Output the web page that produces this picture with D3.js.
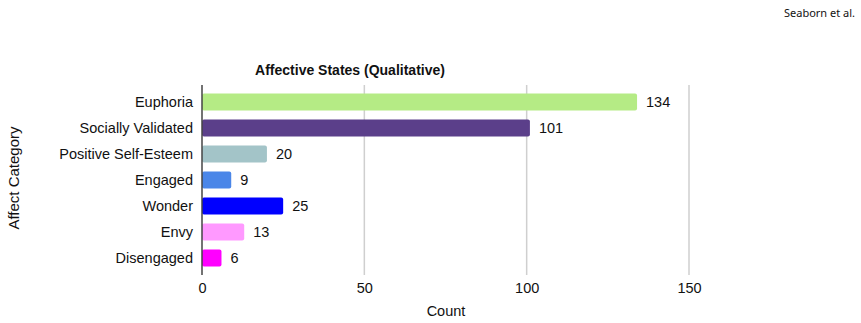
<!DOCTYPE html>
<html>
<head>
<meta charset="utf-8">
<script src="https://cdn.jsdelivr.net/npm/d3@7"></script>
<style>
  body { margin: 0; background: #fff; }
  text { font-family: "Liberation Sans", Arial, sans-serif; fill: #111; }
</style>
</head>
<body>
<svg id="chart"></svg>
<script>
// data
const categories = ["Euphoria", "Socially Validated", "Positive Self-Esteem", "Engaged", "Wonder", "Envy", "Disengaged"];
const counts = [134, 101, 20, 9, 25, 13, 6];
const barColors = ["#b5eb85", "#5b3f8a", "#a3c4c8", "#4a86e8", "#0000ff", "#ff99ff", "#ff00ff"];
const xTicks = [0, 50, 100, 150];

const width = 861, height = 323;
let svg = d3.select("#chart")
    .attr("width", width)
    .attr("height", height);

// scales
let x = d3.scaleLinear()
    .domain([0, 150])
    .range([202, 689]);

let y = d3.scaleBand()
    .domain(categories)
    .range([89, 271])
    .paddingInner(0.35)
    .paddingOuter(0.175);

const plotTop = 85, plotBottom = 275;

// header text
svg.append("text")
    .attr("x", 855)
    .attr("y", 17)
    .attr("text-anchor", "end")
    .style("font-family", "'Noto Sans', 'DejaVu Sans', sans-serif")
    .style("font-size", "11px")
    .text("Seaborn et al.");

// gridlines
svg.append("g")
    .selectAll("line")
    .data(xTicks.slice(1))
    .enter()
        .append("line")
        .attr("x1", d => x(d))
        .attr("x2", d => x(d))
        .attr("y1", plotTop)
        .attr("y2", plotBottom)
        .attr("stroke", "#cfcfcf")
        .attr("stroke-width", 1.5);

// bars
svg.append("g")
    .selectAll("rect")
    .data(counts)
    .enter()
        .append("rect")
        .attr("x", x(0))
        .attr("y", (d, i) => y(categories[i]))
        .attr("width", d => x(d) - x(0))
        .attr("height", y.bandwidth())
        .attr("rx", 2)
        .style("fill", (d, i) => barColors[i]);

// value labels
svg.append("g")
    .selectAll("text")
    .data(counts)
    .enter()
        .append("text")
        .attr("x", d => x(d) + 9)
        .attr("y", (d, i) => y(categories[i]) + y.bandwidth() / 2)
        .attr("dy", "0.35em")
        .style("font-size", "14.5px")
        .text(d => d);

// y axis
let yAxis = d3.axisLeft(y).tickSize(0).tickPadding(9);
let gy = svg.append("g")
    .attr("transform", `translate(${x(0)},0)`)
    .call(yAxis);
gy.select(".domain").remove();
gy.selectAll("text")
    .style("font-size", "14.5px")
    .style("font-family", "'Liberation Sans', Arial, sans-serif");

svg.append("line")
    .attr("x1", x(0))
    .attr("x2", x(0))
    .attr("y1", plotTop)
    .attr("y2", plotBottom)
    .attr("stroke", "#444")
    .attr("stroke-width", 1.5);

// x axis labels
let xAxis = d3.axisBottom(x).tickValues(xTicks).tickSize(0).tickPadding(8);
let gx = svg.append("g")
    .attr("transform", `translate(0,${plotBottom})`)
    .call(xAxis);
gx.select(".domain").remove();
gx.selectAll("text")
    .style("font-size", "14.5px")
    .style("font-family", "'Liberation Sans', Arial, sans-serif");

// titles
svg.append("text")
    .attr("x", 350)
    .attr("y", 75)
    .attr("text-anchor", "middle")
    .style("font-size", "14px")
    .style("font-weight", "bold")
    .text("Affective States (Qualitative)");

svg.append("text")
    .attr("x", 446)
    .attr("y", 316)
    .attr("text-anchor", "middle")
    .style("font-size", "14.5px")
    .text("Count");

svg.append("text")
    .attr("transform", "translate(19,178) rotate(-90)")
    .attr("text-anchor", "middle")
    .style("font-size", "15px")
    .text("Affect Category");
</script>
</body>
</html>
